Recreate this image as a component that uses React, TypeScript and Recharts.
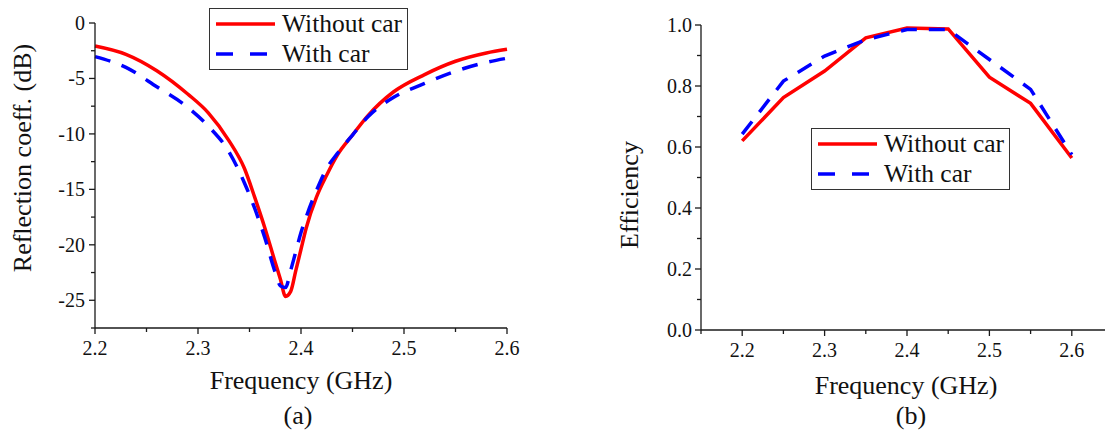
import { LineChart, Line, XAxis, YAxis, Legend } from 'recharts'

// (a) reflection coefficient
const freqA = [2.2, 2.23, 2.26, 2.29, 2.31, 2.33, 2.345, 2.355, 2.365, 2.375, 2.38, 2.385, 2.39, 2.395, 2.4, 2.405, 2.415, 2.425, 2.435, 2.45, 2.465, 2.49, 2.52, 2.55, 2.58, 2.6]
const reflWithout = [-2.07, -2.82, -4.3, -6.4, -8.1, -10.6, -13.1, -15.7, -18.5, -21.6, -23.1, -24.65, -24.2, -22.3, -20.4, -18.5, -15.7, -13.7, -11.95, -10.1, -8.35, -6.2, -4.65, -3.45, -2.7, -2.37]
const reflWith = [-3.03, -4.0, -5.75, -7.6, -9.3, -11.6, -14.4, -16.7, -19.4, -22.5, -23.7, -23.85, -22.3, -20.6, -18.9, -17.5, -15.1, -13.1, -11.8, -10.1, -8.45, -6.7, -5.45, -4.35, -3.55, -3.18]

// (b) efficiency
const freqB = [2.2, 2.25, 2.3, 2.35, 2.4, 2.45, 2.5, 2.55, 2.6]
const effWithout = [0.62, 0.762, 0.849, 0.958, 0.99, 0.987, 0.829, 0.743, 0.564]
const effWith = [0.642, 0.816, 0.898, 0.952, 0.985, 0.985, 0.887, 0.789, 0.575]

const seriesNames = ['Without car', 'With car']
const xTicksA = [2.2, 2.25, 2.3, 2.35, 2.4, 2.45, 2.5, 2.55, 2.6]
const xTicksB = [2.15, 2.2, 2.25, 2.3, 2.35, 2.4, 2.45, 2.5, 2.55, 2.6, 2.65]
const yTicksA = [0, -2.5, -5, -7.5, -10, -12.5, -15, -17.5, -20, -22.5, -25, -27.5]
const yTicksB = [0, 0.1, 0.2, 0.3, 0.4, 0.5, 0.6, 0.7, 0.8, 0.9, 1.0]

const FONT = "'Liberation Serif', 'DejaVu Serif', Times, serif"
const AXIS = '#1a1a1a'
const RED = '#ff0000'
const BLUE = '#0000ff'
const DASH = '16 12'
const seriesColors = [RED, BLUE]
const seriesDash = [undefined, DASH]

const dataA = freqA.map((f, i) => ({ f, without: reflWithout[i], with: reflWith[i] }))
const dataB = freqB.map((f, i) => ({ f, without: effWithout[i], with: effWith[i] }))

const near = (v: number) => Math.abs(v - Math.round(v)) < 1e-6

function XTick({ x, y, payload }: any) {
  const v = payload.value as number
  const major = near(v * 10)
  return (
    <g>
      <line x1={x} y1={y} x2={x} y2={y + (major ? 6 : 4)} stroke={AXIS} strokeWidth={1.3} />
      {major && (
        <text x={x} y={y + 27} textAnchor="middle" fontSize={20} style={{ fontFamily: FONT }} fill="#111">
          {v.toFixed(1)}
        </text>
      )}
    </g>
  )
}

function YTickA({ x, y, payload }: any) {
  const v = payload.value as number
  const major = near(v / 5)
  return (
    <g>
      <line x1={x} y1={y} x2={x - (major ? 6 : 4)} y2={y} stroke={AXIS} strokeWidth={1.3} />
      {major && (
        <text x={x - 10} y={y + 7} textAnchor="end" fontSize={20} style={{ fontFamily: FONT }} fill="#111">
          {String(v)}
        </text>
      )}
    </g>
  )
}

function YTickB({ x, y, payload }: any) {
  const v = payload.value as number
  const major = near(v * 5)
  return (
    <g>
      <line x1={x} y1={y} x2={x - (major ? 6 : 4)} y2={y} stroke={AXIS} strokeWidth={1.3} />
      {major && (
        <text x={x - 9} y={y + 7} textAnchor="end" fontSize={20} style={{ fontFamily: FONT }} fill="#111">
          {v.toFixed(1)}
        </text>
      )}
    </g>
  )
}

// legend drawn in series order, not the library's sorted order
function LegendBox() {
  return (
    <div
      style={{
        border: '1.3px solid #333',
        background: '#fff',
        padding: '0 6px',
        width: 199,
        height: 62,
        boxSizing: 'border-box',
        fontFamily: FONT,
      }}
    >
      {seriesNames.map((name, i) => (
        <div key={name} style={{ display: 'flex', alignItems: 'center', height: 30 }}>
          <svg width={59} height={10} style={{ marginRight: 7, flex: 'none' }}>
            <line
              x1={0}
              y1={5}
              x2={59}
              y2={5}
              stroke={seriesColors[i]}
              strokeWidth={3.5}
              strokeDasharray={seriesDash[i] ? '17 17' : undefined}
            />
          </svg>
          <span style={{ fontSize: 25.5, color: '#111', lineHeight: '30px', whiteSpace: 'nowrap' }}>{name}</span>
        </div>
      ))}
    </div>
  )
}

function Title({ x, y, text, rotate, size = 26 }: { x: number; y: number; text: string; rotate?: boolean; size?: number }) {
  return (
    <div
      style={{
        position: 'absolute',
        left: x,
        top: y,
        transform: `translate(-50%, -50%)${rotate ? ' rotate(-90deg)' : ''}`,
        fontFamily: FONT,
        fontSize: size,
        color: '#111',
        whiteSpace: 'nowrap',
        lineHeight: 1,
      }}
    >
      {text}
    </div>
  )
}

export default function App() {
  return (
    <div
      style={{
        position: 'absolute',
        left: 0,
        top: 0,
        width: 1105,
        height: 432,
        overflow: 'hidden',
        background: '#fff',
        fontFamily: FONT,
      }}
    >
      <div style={{ position: 'absolute', left: 0, top: 0 }}>
        <LineChart width={520} height={432} data={dataA} margin={{ top: 23, right: 13, left: 35, bottom: 74 }}>
          <XAxis
            dataKey="f"
            type="number"
            domain={[2.2, 2.6]}
            ticks={xTicksA}
            interval={0}
            tickSize={0}
            tickMargin={0}
            tick={<XTick />}
            axisLine={{ stroke: AXIS, strokeWidth: 1.3 }}
            height={30}
          />
          <YAxis
            type="number"
            domain={[-27.5, 0]}
            ticks={yTicksA}
            interval={0}
            tickSize={0}
            tickMargin={0}
            tick={<YTickA />}
            axisLine={{ stroke: AXIS, strokeWidth: 1.3 }}
            width={60}
            allowDataOverflow
          />
          <Legend
            layout="horizontal"
            verticalAlign="middle"
            align="center"
            content={<LegendBox />}
            wrapperStyle={{ position: 'absolute', left: 209, top: 8, width: 'auto' }}
          />
          <Line
            type="monotone"
            dataKey="without"
            name={seriesNames[0]}
            stroke={RED}
            strokeWidth={3.5}
            dot={false}
            isAnimationActive={false}
          />
          <Line
            type="monotone"
            dataKey="with"
            name={seriesNames[1]}
            stroke={BLUE}
            strokeWidth={3.5}
            strokeDasharray={DASH}
            dot={false}
            isAnimationActive={false}
          />
        </LineChart>
      </div>

      <div style={{ position: 'absolute', left: 560, top: 0 }}>
        <LineChart width={560} height={432} data={dataB} margin={{ top: 25, right: 7, left: 81, bottom: 72 }}>
          <XAxis
            dataKey="f"
            type="number"
            domain={[2.15, 2.65]}
            ticks={xTicksB}
            interval={0}
            tickSize={0}
            tickMargin={0}
            tick={<XTick />}
            axisLine={{ stroke: AXIS, strokeWidth: 1.3 }}
            height={30}
          />
          <YAxis
            type="number"
            domain={[0, 1]}
            ticks={yTicksB}
            interval={0}
            tickSize={0}
            tickMargin={0}
            tick={<YTickB />}
            axisLine={{ stroke: AXIS, strokeWidth: 1.3 }}
            width={60}
          />
          <Legend
            layout="horizontal"
            verticalAlign="middle"
            align="center"
            content={<LegendBox />}
            wrapperStyle={{ position: 'absolute', left: 251, top: 128, width: 'auto' }}
          />
          <Line
            type="linear"
            dataKey="without"
            name={seriesNames[0]}
            stroke={RED}
            strokeWidth={3.5}
            dot={false}
            isAnimationActive={false}
          />
          <Line
            type="linear"
            dataKey="with"
            name={seriesNames[1]}
            stroke={BLUE}
            strokeWidth={3.5}
            strokeDasharray={DASH}
            dot={false}
            isAnimationActive={false}
          />
        </LineChart>
      </div>

      <Title x={22.5} y={158} text="Reflection coeff. (dB)" rotate />
      <Title x={301} y={381} text="Frequency (GHz)" />
      <Title x={298} y={416} text="(a)" size={26} />
      <Title x={630} y={195} text="Efficiency" rotate />
      <Title x={906} y={386} text="Frequency (GHz)" />
      <Title x={911} y={416} text="(b)" size={26} />
    </div>
  )
}
